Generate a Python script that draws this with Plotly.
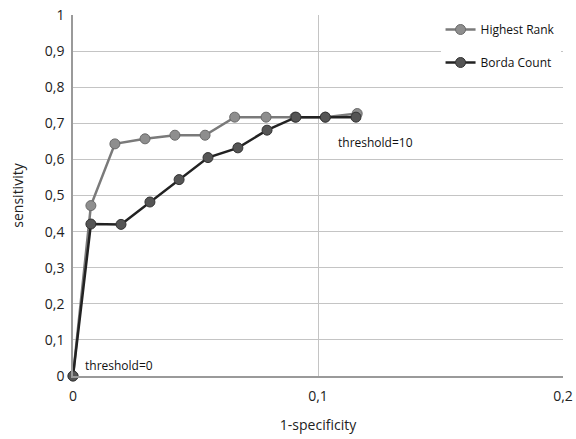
import plotly.graph_objects as go

hr_x = [0, 0.0073, 0.0171, 0.0294, 0.0416, 0.0539, 0.066, 0.0788, 0.0906, 0.103, 0.116]
hr_y = [0, 0.472, 0.643, 0.657, 0.667, 0.667, 0.717, 0.717, 0.717, 0.717, 0.727]
bc_x = [0, 0.0073, 0.0196, 0.0314, 0.0433, 0.0551, 0.0673, 0.0792, 0.091, 0.103, 0.1155]
bc_y = [0, 0.421, 0.42, 0.482, 0.544, 0.605, 0.632, 0.681, 0.717, 0.717, 0.717]

x_ticks = [0, 0.1, 0.2]
x_labels = ["0", "0,1", "0,2"]
y_ticks = [0, 0.1, 0.2, 0.3, 0.4, 0.5, 0.6, 0.7, 0.8, 0.9, 1]
y_labels = ["0", "0,1", "0,2", "0,3", "0,4", "0,5", "0,6", "0,7", "0,8", "0,9", "1"]

font = "Open Sans"
fig = go.Figure()
fig.add_trace(go.Scatter(
    x=hr_x, y=hr_y, mode="lines+markers", name="Highest Rank", legendgroup="hr",
    line=dict(color="#7a7a7a", width=2.5), cliponaxis=False,
    marker=dict(size=10, color="#8e8e8e", line=dict(color="#6a6a6a", width=1)),
))
fig.add_trace(go.Scatter(
    x=bc_x, y=bc_y, mode="lines+markers", name="Borda Count", legendgroup="bc",
    line=dict(color="#222222", width=2.5), cliponaxis=False,
    marker=dict(size=10, color="#555555", line=dict(color="#333333", width=1)),
))

fig.add_annotation(x=0.1075, y=0.648, xref="x", yref="y", text="threshold=10",
                   showarrow=False, xanchor="left", yanchor="middle",
                   font=dict(family=font, size=12, color="#111"))
fig.add_annotation(x=0.004, y=0.03, xref="x", yref="y", text="threshold=0",
                   showarrow=False, xanchor="left", yanchor="middle",
                   font=dict(family=font, size=12, color="#111"))

fig.update_layout(
    width=576, height=439,
    margin=dict(l=73, r=13, t=15, b=63),
    plot_bgcolor="white", paper_bgcolor="white",
    showlegend=True,
    legend=dict(x=0.995, y=1.0, xanchor="right", yanchor="top",
                bgcolor="white", font=dict(family=font, size=12, color="#111"),
                itemwidth=30, tracegroupgap=14),
    font=dict(family=font, size=14, color="#222"),
)
fig.update_xaxes(range=[0, 0.2], tickvals=x_ticks, ticktext=x_labels,
                 showgrid=True, gridcolor="#c4c4c4", gridwidth=1,
                 showline=True, linecolor="#9a9a9a", linewidth=1.5, mirror=False,
                 zeroline=False, ticks="outside", ticklen=6, tickcolor="rgba(0,0,0,0)",
                 automargin=False,
                 title=dict(text="1-specificity", font=dict(family=font, size=14, color="#222"), standoff=17))
fig.update_yaxes(range=[0, 1], tickvals=y_ticks, ticktext=y_labels,
                 showgrid=True, gridcolor="#c4c4c4", gridwidth=1,
                 showline=True, linecolor="#9a9a9a", linewidth=1.5,
                 zeroline=False, ticks="outside", ticklen=4, tickcolor="rgba(0,0,0,0)",
                 automargin=False,
                 title=dict(text="sensitivity", font=dict(family=font, size=14, color="#222"), standoff=18))

fig.write_html("out.html")
